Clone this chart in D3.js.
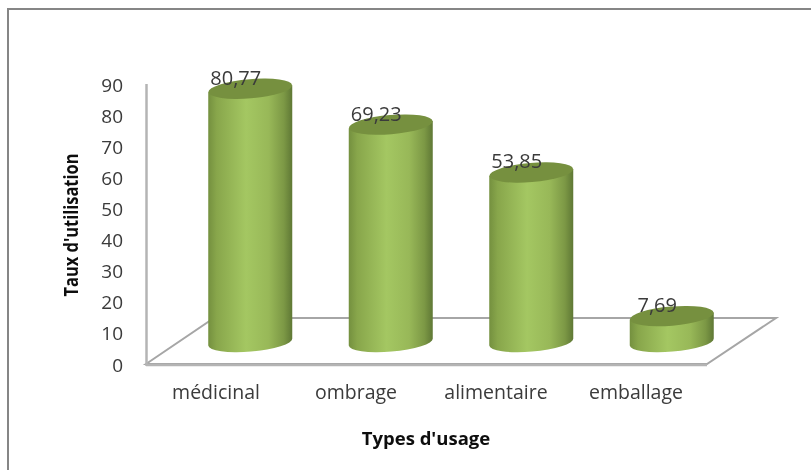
<!DOCTYPE html>
<html lang="fr">
<head>
    <meta charset="UTF-8">
    <title>Taux d'utilisation par type d'usage</title>
    <script src="https://d3js.org/d3.v7.min.js"></script>
    <style>
        html, body { margin: 0; background: #fff; }
        svg { display: block; }
        text { font-family: "Open Sans", Arial, sans-serif; fill: #3a3a3a; }
        .titre { fill: #111; }
    </style>
</head>
<body>
    <svg width="811" height="470"></svg>
    <script>
        const categories = ["médicinal", "ombrage", "alimentaire", "emballage"];
        const values = [80.77, 69.23, 53.85, 7.69];
        const valueLabels = ["80,77", "69,23", "53,85", "7,69"];
        const yTicks = [0, 10, 20, 30, 40, 50, 60, 70, 80, 90];

        const svg = d3.select("svg");

        // cadre : haut et gauche seulement, le reste est coupé dans l'image
        svg.append("path")
            .attr("d", "M8,470 L8,9 L811,9")
            .attr("fill", "none").attr("stroke", "#868686").attr("stroke-width", 2);

        const defs = svg.append("defs");
        const grad = defs.append("linearGradient").attr("id", "cyl");
        [[0, "#74903f"], [0.1, "#88a64b"], [0.45, "#a4c762"], [0.72, "#98b858"], [0.9, "#7c9845"], [1, "#5f7835"]]
            .forEach(s => grad.append("stop").attr("offset", s[0]).attr("stop-color", s[1]));
        const blur = defs.append("filter").attr("id", "soft");
        blur.append("feGaussianBlur").attr("stdDeviation", 0.4);

        // libellés sur le bord avant du sol, barres décalées vers le fond
        const x = d3.scaleBand().domain(categories).range([146, 706]);
        const xBar = d3.scaleBand().domain(categories).range([180, 742]);
        const y = d3.scaleLinear().domain([0, 90]).range([364, 84]);
        const floorShift = 24;
        const barWidth = 84;

        // sol
        svg.append("path")
            .attr("d", "M146,364 L214,318 L776,318 L707,364 Z")
            .attr("fill", "#fff").attr("stroke", "#a6a6a6").attr("stroke-width", 2);

        // axes
        svg.append("line")
            .attr("x1", 146.5).attr("x2", 146.5)
            .attr("y1", y(90)).attr("y2", y(0) + 2)
            .attr("stroke", "#b4b4b4").attr("stroke-width", 2.5);
        svg.append("line")
            .attr("x1", 146).attr("x2", 707)
            .attr("y1", 365).attr("y2", 365)
            .attr("stroke", "#b4b4b4").attr("stroke-width", 2.5);

        const yAxis = d3.axisLeft(y).tickValues(yTicks).tickSize(0).tickPadding(0);
        const gy = svg.append("g")
            .attr("transform", "translate(123,1)")
            .attr("filter", "url(#soft)")
            .call(yAxis);
        gy.select(".domain").remove();
        gy.selectAll("text").attr("font-size", 19);

        const xAxis = d3.axisBottom(x).tickSize(0).tickPadding(0);
        const gx = svg.append("g")
            .attr("transform", "translate(0,385)")
            .attr("filter", "url(#soft)")
            .call(xAxis);
        gx.select(".domain").remove();
        gx.selectAll("text").attr("font-size", 19.5);

        // barres cylindriques
        const rx = barWidth / 2, ry = 9.6;
        const tilt = -4.8;
        const cx = d => xBar(d) + xBar.bandwidth() / 2;
        const topY = i => y(values[i]) - floorShift;
        const baseY = y(0) - floorShift + 2;
        const dy = rx * Math.tan(-tilt * Math.PI / 180);

        const bars = svg.selectAll(".bar")
            .data(categories)
            .enter().append("g")
            .attr("class", "bar");

        bars.append("path")
            .attr("d", (d, i) => {
                const c = cx(d), t = topY(i);
                return `M${c - rx},${t + dy} L${c - rx},${baseY + dy}` +
                    `A${rx},${ry} ${tilt} 0 0 ${c + rx},${baseY - dy}` +
                    `L${c + rx},${t - dy} Z`;
            })
            .attr("fill", "url(#cyl)");

        bars.append("ellipse")
            .attr("rx", rx).attr("ry", ry)
            .attr("transform", (d, i) => `translate(${cx(d)},${topY(i)}) rotate(${tilt})`)
            .attr("fill", "#76903f");

        svg.selectAll(".val")
            .data(categories)
            .enter().append("text")
            .attr("class", "val")
            .attr("x", d => cx(d) - 14.5)
            .attr("y", (d, i) => topY(i) - 4)
            .attr("text-anchor", "middle")
            .attr("font-size", 20)
            .attr("filter", "url(#soft)")
            .text((d, i) => valueLabels[i]);

        svg.append("text")
            .attr("class", "titre")
            .attr("x", 426).attr("y", 445)
            .attr("text-anchor", "middle")
            .attr("font-size", 18.5).attr("font-weight", 700)
            .attr("filter", "url(#soft)")
            .text("Types d'usage");

        svg.append("text")
            .attr("class", "titre")
            .attr("transform", "translate(78,225) rotate(-90)")
            .attr("text-anchor", "middle")
            .attr("font-size", 19).attr("font-weight", 700)
            .attr("textLength", 143).attr("lengthAdjust", "spacingAndGlyphs")
            .attr("filter", "url(#soft)")
            .text("Taux d'utilisation");
    </script>
</body>
</html>
